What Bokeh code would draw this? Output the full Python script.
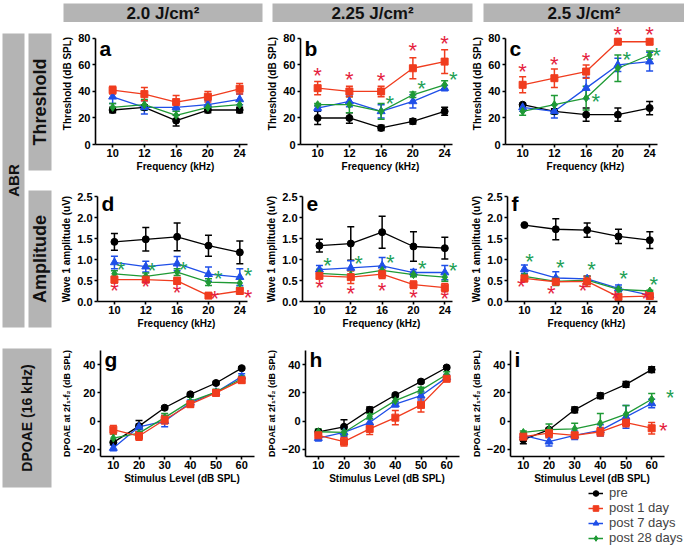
import math
from bokeh.plotting import figure
from bokeh.models import (ColumnDataSource, Range1d, FixedTicker, Whisker, TeeHead,
                          Label, Legend, LegendItem, NumeralTickFormatter)
from bokeh.layouts import row, column
from bokeh.embed import file_html
from bokeh.resources import INLINE
from bokeh.core.properties import value

FONT = "Liberation Sans"

# ------------------------------------------------------------------ data
freq_khz = [10, 12, 16, 20, 24]
stim_levels = [10, 20, 30, 40, 50, 60]
dose_labels = ["2.0 J/cm²", "2.25 J/cm²", "2.5 J/cm²"]
group_labels = ["pre", "post 1 day", "post 7 days", "post 28 days"]
side_labels = ["ABR", "Threshold", "Amplitude", "DPOAE (16 kHz)"]

# ABR threshold (dB SPL), mean and error
a_pre = [26, 28, 18, 26, 26];        a_pre_err = [2, 2, 4, 2, 2]
a_d1 = [41, 38, 32, 36, 42];         a_d1_err = [3, 5, 5, 4, 4]
a_d7 = [36, 28, 28, 30, 34];         a_d7_err = [5, 5, 3, 3, 4]
a_d28 = [28, 30, 22, 28, 30];        a_d28_err = [3, 4, 3, 2, 3]

b_pre = [20, 20, 12.5, 17.5, 25];    b_pre_err = [5, 4, 2, 2, 3]
b_d1 = [42.5, 40, 40, 57.5, 62.5];   b_d1_err = [5, 4, 4, 8, 9]
b_d7 = [27.5, 32.5, 25, 32.5, 42.5]; b_d7_err = [2, 4, 5, 5, 2]
b_d28 = [30, 30, 25, 37.5, 45];      b_d28_err = [1, 6, 6, 2, 3]

c_pre = [30, 25, 22.5, 22.5, 27.5];  c_pre_err = [1, 2, 5, 5, 5]
c_d1 = [45, 50, 55, 77.5, 77.5];     c_d1_err = [6, 7, 5, 2, 2]
c_d7 = [28, 25, 42.5, 60, 62.5];     c_d7_err = [3, 5, 8, 5, 7]
c_d28 = [25, 30, 35, 57.5, 67.5];    c_d28_err = [3, 7, 9, 10, 3]

# ABR wave 1 amplitude (uV)
d_pre = [1.42, 1.48, 1.54, 1.33, 1.17]; d_pre_err = [0.2, 0.28, 0.33, 0.25, 0.27]
d_d1 = [0.52, 0.52, 0.49, 0.14, 0.25];  d_d1_err = [0.08, 0.05, 0.08, 0.03, 0.05]
d_d7 = [0.93, 0.83, 0.9, 0.65, 0.58];   d_d7_err = [0.15, 0.13, 0.17, 0.17, 0.2]
d_d28 = [0.66, 0.6, 0.7, 0.46, 0.44];   d_d28_err = [0.07, 0.08, 0.08, 0.08, 0.1]

e_pre = [1.33, 1.38, 1.65, 1.31, 1.27]; e_pre_err = [0.15, 0.4, 0.38, 0.35, 0.26]
e_d1 = [0.61, 0.58, 0.65, 0.4, 0.33];   e_d1_err = [0.06, 0.15, 0.1, 0.09, 0.1]
e_d7 = [0.76, 0.8, 0.85, 0.69, 0.69];   e_d7_err = [0.1, 0.17, 0.2, 0.07, 0.17]
e_d28 = [0.67, 0.63, 0.74, 0.64, 0.58]; e_d28_err = [0.1, 0.1, 0.1, 0.05, 0.1]

f_pre = [1.82, 1.72, 1.7, 1.55, 1.46];  f_pre_err = [0.02, 0.25, 0.17, 0.17, 0.2]
f_d1 = [0.55, 0.47, 0.48, 0.11, 0.13];  f_d1_err = [0.08, 0.05, 0.12, 0.02, 0.02]
f_d7 = [0.77, 0.56, 0.54, 0.31, 0.15];  f_d7_err = [0.1, 0.15, 0.06, 0.08, 0.02]
f_d28 = [0.6, 0.48, 0.51, 0.29, 0.25];  f_d28_err = [0.05, 0.1, 0.1, 0.05, 0.02]

# DPOAE at 2f1-f2 (dB SPL), 16 kHz
g_pre = [-15, -3.5, 9.5, 19, 27, 37.5];   g_pre_err = [1, 4, 1, 1, 1, 1]
g_d1 = [-6, -10.5, 1, 12, 20, 29];        g_d1_err = [3, 3, 3, 2, 2, 2]
g_d7 = [-19, -4, 0, 13, 20.5, 31.5];      g_d7_err = [2, 2, 4, 2, 1, 2]
g_d28 = [-12, -8.5, 2.5, 14, 20.5, 30];   g_d28_err = [3, 3, 3, 3, 2, 2]

h_pre = [-7.5, -4, 8, 18.5, 28, 38];      h_pre_err = [1, 5, 2, 1, 1, 1]
h_d1 = [-10, -14.5, -5.5, 2.5, 11.5, 30]; h_d1_err = [3, 3, 4, 5, 5, 2]
h_d7 = [-12, -8, -1, 12, 18, 31];         h_d7_err = [2, 3, 3, 2, 3, 2]
h_d28 = [-7.5, -8, 3.5, 14.5, 22, 33];    h_d28_err = [2, 2, 2, 2, 2, 2]

i_pre = [-13, -6, 8, 18, 26, 36.5];       i_pre_err = [3, 1, 2, 2, 2, 2]
i_d1 = [-11, -8.5, -10, -7.5, -1, -5];    i_d1_err = [3, 3, 2, 3, 3, 4]
i_d7 = [-10, -14.5, -10, -6.5, 3, 12.5];  i_d7_err = [1, 3, 3, 4, 8, 3]
i_d28 = [-8, -6, -5.5, -1.5, 5, 15.5];    i_d28_err = [1, 4, 4, 7, 6, 4]

# significance asterisks (x in frequency-slot units or dB SPL, y in data units)
b_star_red_x = [0, 1, 2, 3, 4];          b_star_red_y = [53, 50, 49, 72, 77]
b_star_green_x = [2.27, 3.27, 4.27];     b_star_green_y = [32, 43, 50]
c_star_red_x = [0, 1, 2, 3, 4];          c_star_red_y = [56, 61, 64, 84, 84]
c_star_green_x = [2.3, 3.28, 4.22];      c_star_green_y = [33, 65, 68]
d_star_red_x = [0, 1, 2, 3.2, 4.26];     d_star_red_y = [0.29, 0.37, 0.25, 0.09, 0.11]
d_star_green_x = [0.21, 1.2, 2.2, 3.31, 4.26]; d_star_green_y = [0.79, 0.76, 0.79, 0.56, 0.64]
e_star_red_x = [0, 1, 2, 3, 4];          e_star_red_y = [0.35, 0.21, 0.29, 0.13, 0.09]
e_star_green_x = [0.26, 1.25, 2.26, 3.28, 4.26]; e_star_green_y = [0.87, 0.94, 0.96, 0.8, 0.77]
f_star_red_x = [-0.1, 0.86, 1.87, 2.9, 3.87]; f_star_red_y = [0.37, 0.21, 0.29, 0.09, 0.09]
f_star_green_x = [0.16, 1.14, 2.14, 3.16, 4.13]; f_star_green_y = [0.98, 0.84, 0.79, 0.56, 0.44]
i_star_red_x = [64.5];                   i_star_red_y = [-6]
i_star_green_x = [67.2];                 i_star_green_y = [17.5]

# ------------------------------------------------------------------ style
COL = {"pre": "#000000", "d1": "#F03C1E", "d7": "#1F4FE8", "d28": "#1F9A35"}
MARK = {"pre": ("circle", 7), "d1": ("square", 7), "d7": ("triangle", 8), "d28": ("diamond", 8)}
STAR_RED = "#E51F3F"
STAR_GREEN = "#22A055"
GRAY = "#B4B4B4"
ORDER = ["pre", "d7", "d28", "d1"]
COL_W = [205, 205, 216]


def style_axes(p, ylabel_size):
    for ax in (p.xaxis[0], p.yaxis[0]):
        ax.axis_line_width = 1.6
        ax.axis_line_color = "black"
        ax.major_tick_line_width = 1.6
        ax.major_tick_out = 3
        ax.major_tick_in = 0
        ax.minor_tick_line_color = None
        ax.major_label_text_font = FONT
        ax.major_label_text_font_style = "bold"
        ax.major_label_text_font_size = "11px"
        ax.major_label_text_color = "black"
        ax.axis_label_text_font = FONT
        ax.axis_label_text_font_style = "bold"
        ax.axis_label_text_color = "black"
    p.xaxis[0].axis_label_text_font_size = "10px"
    p.yaxis[0].axis_label_text_font_size = ylabel_size
    p.xaxis[0].major_label_standoff = 1
    p.xaxis[0].axis_label_standoff = 1
    p.yaxis[0].major_label_standoff = 2
    p.yaxis[0].axis_label_standoff = 2


def make_panel(col, letter, xs, xview, xbounds, yview, ybounds, yticks, xticks, xoverrides,
               xlabel, ylabel, ylabel_size, series, stars, height, ml, frame_w, mt, mb,
               letter_dy, yfmt=None):
    w = COL_W[col]
    p = figure(width=w, height=height, x_range=Range1d(*xview), y_range=Range1d(*yview),
               output_backend="svg", toolbar_location=None,
               min_border_left=ml, min_border_right=w - ml - frame_w,
               min_border_top=mt, min_border_bottom=mb,
               x_axis_label=xlabel, y_axis_label=ylabel)
    p.xgrid.visible = False
    p.ygrid.visible = False
    p.outline_line_color = None
    p.xaxis.bounds = xbounds
    p.yaxis.bounds = ybounds
    p.xaxis.ticker = FixedTicker(ticks=xticks)
    if xoverrides:
        p.xaxis.major_label_overrides = xoverrides
    p.yaxis.ticker = FixedTicker(ticks=yticks)
    if yfmt:
        p.yaxis.formatter = NumeralTickFormatter(format=yfmt)
    style_axes(p, ylabel_size)
    srcs = {}
    for key in ORDER:
        mean, err = series[key]
        c = COL[key]
        src = ColumnDataSource(dict(x=xs, y=mean,
                                    lo=[m - e for m, e in zip(mean, err)],
                                    hi=[m + e for m, e in zip(mean, err)]))
        p.line("x", "y", source=src, line_color=c, line_width=1.3)
        p.add_layout(Whisker(source=src, base="x", lower="lo", upper="hi",
                             line_color=c, line_width=1.5,
                             upper_head=TeeHead(size=7, line_color=c, line_width=1.5),
                             lower_head=TeeHead(size=7, line_color=c, line_width=1.5)))
        m, s = MARK[key]
        p.scatter("x", "y", source=src, marker=m, size=s, fill_color=c, line_color=c)
        srcs[key] = src
    for color, sx, sy in stars:
        for x, y in zip(sx, sy):
            p.add_layout(Label(x=x, y=y, text="*", text_color=color, text_font=FONT,
                               text_font_size="22px", text_align="center",
                               text_baseline="middle", y_offset=-1))
    p.add_layout(Label(x=xbounds[0], y=ybounds[1], text=letter, x_offset=4, y_offset=letter_dy,
                       text_font=FONT, text_font_style="bold", text_font_size="21px",
                       text_baseline="alphabetic", text_color="black"))
    return p, srcs


slots = list(range(len(freq_khz)))
slot_labels = {i: str(f) for i, f in zip(slots, freq_khz)}


def ser(pre, pre_e, d1, d1_e, d7, d7_e, d28, d28_e):
    return {"pre": (pre, pre_e), "d1": (d1, d1_e), "d7": (d7, d7_e), "d28": (d28, d28_e)}


thr_panels = [
    ("a", ser(a_pre, a_pre_err, a_d1, a_d1_err, a_d7, a_d7_err, a_d28, a_d28_err), []),
    ("b", ser(b_pre, b_pre_err, b_d1, b_d1_err, b_d7, b_d7_err, b_d28, b_d28_err),
     [(STAR_RED, b_star_red_x, b_star_red_y), (STAR_GREEN, b_star_green_x, b_star_green_y)]),
    ("c", ser(c_pre, c_pre_err, c_d1, c_d1_err, c_d7, c_d7_err, c_d28, c_d28_err),
     [(STAR_RED, c_star_red_x, c_star_red_y), (STAR_GREEN, c_star_green_x, c_star_green_y)]),
]
amp_panels = [
    ("d", ser(d_pre, d_pre_err, d_d1, d_d1_err, d_d7, d_d7_err, d_d28, d_d28_err),
     [(STAR_RED, d_star_red_x, d_star_red_y), (STAR_GREEN, d_star_green_x, d_star_green_y)]),
    ("e", ser(e_pre, e_pre_err, e_d1, e_d1_err, e_d7, e_d7_err, e_d28, e_d28_err),
     [(STAR_RED, e_star_red_x, e_star_red_y), (STAR_GREEN, e_star_green_x, e_star_green_y)]),
    ("f", ser(f_pre, f_pre_err, f_d1, f_d1_err, f_d7, f_d7_err, f_d28, f_d28_err),
     [(STAR_RED, f_star_red_x, f_star_red_y), (STAR_GREEN, f_star_green_x, f_star_green_y)]),
]
dp_panels = [
    ("g", ser(g_pre, g_pre_err, g_d1, g_d1_err, g_d7, g_d7_err, g_d28, g_d28_err), []),
    ("h", ser(h_pre, h_pre_err, h_d1, h_d1_err, h_d7, h_d7_err, h_d28, h_d28_err), []),
    ("i", ser(i_pre, i_pre_err, i_d1, i_d1_err, i_d7, i_d7_err, i_d28, i_d28_err),
     [(STAR_RED, i_star_red_x, i_star_red_y), (STAR_GREEN, i_star_green_x, i_star_green_y)]),
]

row1 = [make_panel(k, l, slots, (-0.54, 4.5), (-0.54, 4.25), (0, 92), (0, 80), [0, 20, 40, 60, 80],
                   slots, slot_labels, "Frequency (kHz)", "Threshold (dB SPL)", "10px",
                   s, st, 152, 37, 160, 0, 30, -10)[0]
        for k, (l, s, st) in enumerate(thr_panels)]
row2 = [make_panel(k, l, slots, (-0.54, 4.5), (-0.54, 4.25), (0, 2.5), (0, 2.5),
                   [0, 0.5, 1.0, 1.5, 2.0, 2.5],
                   slots, slot_labels, "Frequency (kHz)", "Wave 1 amplitude (uV)", "10px",
                   s, st, 157, 37, 160, 22, 30, -7, yfmt="0.0")[0]
        for k, (l, s, st) in enumerate(amp_panels)]
row3_out = [make_panel(k, l, stim_levels, (5, 68.5), (5, 65), (-25, 50), (-25, 50), [-20, 0, 20, 40],
                       stim_levels, None, "Stimulus Level (dB SPL)",
                       "DPOAE at 2f\u2081-f\u2082 (dB SPL)", "9px",
                       s, st, 155, 36, 169, 19, 30, -9)
            for k, (l, s, st) in enumerate(dp_panels)]
row3 = [p for p, _ in row3_out]
srcs_i = row3_out[2][1]


def blank(width, height, xr, yr):
    p = figure(width=width, height=height, x_range=Range1d(*xr), y_range=Range1d(*yr),
               output_backend="svg", toolbar_location=None,
               x_axis_location=None, y_axis_location=None, min_border=0)
    p.outline_line_color = None
    p.grid.visible = False
    return p


RIGHT_W = sum(COL_W)

# legend: renderers share panel i's data; this small figure's view shows none of it
leg_fig = blank(RIGHT_W, 61, (-2, -1), (-200, -199))
items = []
for key, lab in zip(["pre", "d1", "d7", "d28"], group_labels):
    c = COL[key]
    m, s = MARK[key]
    r1 = leg_fig.line("x", "y", source=srcs_i[key], line_color=c, line_width=1.5)
    r2 = leg_fig.scatter("x", "y", source=srcs_i[key], marker=m, size=s, fill_color=c, line_color=c)
    items.append(LegendItem(label=lab, renderers=[r1, r2], index=0))
legend = Legend(items=items, location=(530, 2), label_text_font=FONT, label_text_font_size="13px",
                glyph_width=15, glyph_height=14, label_height=14, spacing=0, padding=0, margin=0,
                label_standoff=6, border_line_color=None, background_fill_alpha=0)
leg_fig.add_layout(legend)

# header with dose titles
header = blank(RIGHT_W, 22, (0, RIGHT_W), (0, 22))
header.quad(left=[5, 214, 425], right=[204, 414, 626], bottom=[0, 0, 0], top=[19, 19, 19],
            fill_color=GRAY, line_color=None)
header.text(x=[104.5, 314, 525.5], y=[9.5, 9.5, 9.5], text=dose_labels,
            text_font=value(FONT), text_font_style="bold", text_font_size="17px",
            text_align="center", text_baseline="middle", text_color="#111111")

# side labels
SIDE_W, TOTAL_H = 58, 547
side = blank(SIDE_W, TOTAL_H, (0, SIDE_W), (0, TOTAL_H))
side.quad(left=[2, 28, 28, 2], right=[24, 51, 51, 51], top=[514, 514, 357, 199],
          bottom=[220, 377, 220, 60], fill_color=GRAY, line_color=None)
side_x = [13, 39.5, 39.5, 26.5]
side_y = [367, 445.5, 288.5, 129.5]
side_sizes = ["15px", "18px", "18px", "14px"]
for sx, sy, st, sz in zip(side_x, side_y, side_labels, side_sizes):
    side.text(x=[sx], y=[sy], text=[st], angle=math.pi / 2,
              text_font=value(FONT), text_font_style="bold", text_font_size=sz,
              text_align="center", text_baseline="middle", text_color="#111111")

right = column(header, row(*row1), row(*row2), row(*row3), leg_fig)
layout = row(side, right)

open("out.html", "w").write(file_html(layout, INLINE))
